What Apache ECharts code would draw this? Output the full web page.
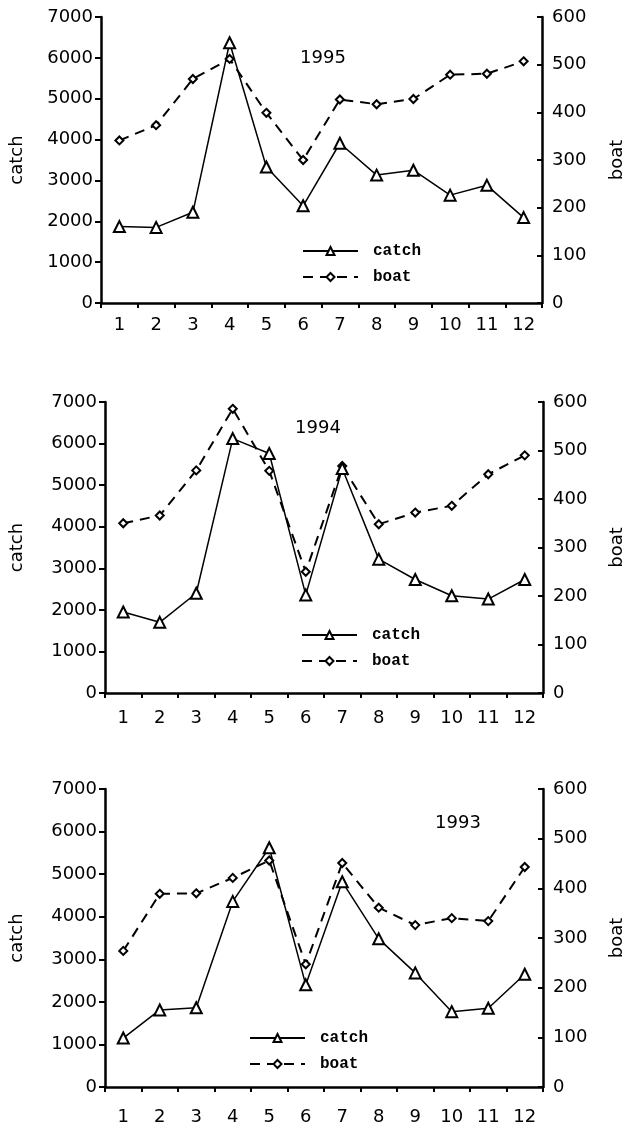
<!DOCTYPE html>
<html>
<head>
<meta charset="utf-8">
<script src="https://cdn.jsdelivr.net/npm/echarts@6/dist/echarts.min.js"></script>
<style>
html,body{margin:0;padding:0;background:#fff;}
#chart{width:634px;height:1130px;}
</style>
</head>
<body>
<div id="chart"></div>
<script>
const months = ['1','2','3','4','5','6','7','8','9','10','11','12'];
const years = ['1995','1994','1993'];
const catch1995 = [1870, 1850, 2220, 6370, 3330, 2380, 3910, 3130, 3250, 2640, 2880, 2090];
const boat1995  = [341, 373, 470, 512, 399, 300, 427, 417, 428, 479, 481, 507];
const catch1994 = [1950, 1700, 2400, 6120, 5760, 2360, 5400, 3220, 2730, 2340, 2260, 2730];
const boat1994  = [350, 366, 459, 586, 458, 250, 468, 348, 372, 386, 451, 490];
const catch1993 = [1150, 1810, 1860, 4360, 5620, 2400, 4820, 3480, 2680, 1770, 1850, 2650];
const boat1993  = [274, 389, 390, 421, 456, 247, 451, 361, 326, 340, 334, 443];
const catchTicks = {min: 0, max: 7000, interval: 1000};
const boatTicks = {min: 0, max: 600, interval: 100};

const catchData = [catch1995, catch1994, catch1993];
const boatData = [boat1995, boat1994, boat1993];

const panels = [
  {left: 97, right: 76, top: 17, height: 286, labelMargin: 13, catchGap: 75, boatGap: 66,
   year: [323, 58], legendLeft: 302, legendTop: 243},
  {left: 94, right: 77, top: 402, height: 291, labelMargin: 16, catchGap: 79, boatGap: 65,
   year: [318, 428], legendLeft: 301, legendTop: 627},
  {left: 93, right: 79, top: 789, height: 298, labelMargin: 21, catchGap: 79, boatGap: 65,
   year: [458, 823], legendLeft: 249, legendTop: 1030}
];

const FONT = 'DejaVu Sans';
const axisLine = {show: true, lineStyle: {color: '#000', width: 2.5}};
const plain = v => String(v);

const grid = [], xAxis = [], yAxis = [], series = [], legend = [], graphic = [];
panels.forEach((p, i) => {
  grid.push({left: p.left, right: p.right, top: p.top, height: p.height, containLabel: false});
  xAxis.push({
    type: 'category', gridIndex: i, data: months, boundaryGap: true,
    axisLine: axisLine,
    axisTick: {show: true, length: 5, lineStyle: {color: '#000', width: 2}},
    axisLabel: {color: '#000', fontFamily: FONT, fontSize: 18, margin: p.labelMargin},
    splitLine: {show: false}
  });
  yAxis.push({
    type: 'value', gridIndex: i, position: 'left',
    min: catchTicks.min, max: catchTicks.max, interval: catchTicks.interval,
    name: 'catch', nameLocation: 'middle', nameRotate: 90, nameGap: p.catchGap,
    nameTextStyle: {color: '#000', fontFamily: FONT, fontSize: 18},
    axisLine: axisLine,
    axisTick: {show: true, length: 6, lineStyle: {color: '#000', width: 2}},
    axisLabel: {color: '#000', fontFamily: FONT, fontSize: 18, margin: 8, formatter: plain},
    splitLine: {show: false}
  });
  yAxis.push({
    type: 'value', gridIndex: i, position: 'right',
    min: boatTicks.min, max: boatTicks.max, interval: boatTicks.interval,
    name: 'boat', nameLocation: 'middle', nameRotate: 90, nameGap: p.boatGap,
    nameTextStyle: {color: '#000', fontFamily: FONT, fontSize: 18},
    axisLine: axisLine,
    axisTick: {show: true, inside: true, length: 5, lineStyle: {color: '#000', width: 2}},
    axisLabel: {color: '#000', fontFamily: FONT, fontSize: 18, margin: 10, formatter: plain},
    splitLine: {show: false}
  });
  series.push({
    name: 'catch', type: 'line', xAxisIndex: i, yAxisIndex: 2 * i,
    data: catchData[i], symbol: 'emptyTriangle', symbolSize: 11,
    lineStyle: {color: '#000', width: 1.5, type: 'solid'},
    itemStyle: {color: '#000', borderColor: '#000', borderWidth: 1.3},
    animation: false, z: 3
  });
  series.push({
    name: 'boat', type: 'line', xAxisIndex: i, yAxisIndex: 2 * i + 1,
    data: boatData[i], symbol: 'emptyDiamond', symbolSize: 8,
    lineStyle: {color: '#000', width: 2, type: [10, 7]},
    itemStyle: {color: '#000', borderColor: '#000', borderWidth: 1.3},
    animation: false, z: 2
  });
  legend.push({
    orient: 'vertical', left: p.legendLeft, top: p.legendTop, padding: 0,
    itemWidth: 55, itemHeight: 10, itemGap: 10,
    data: ['catch', 'boat'], selectedMode: false,
    textStyle: {color: '#000', fontFamily: 'Liberation Mono', fontSize: 16, fontWeight: 'bold',
                padding: [0, 0, 0, 10], lineHeight: 16}
  });
  graphic.push({
    type: 'text', x: p.year[0], y: p.year[1],
    style: {text: years[i], fill: '#000', font: '18px "' + FONT + '"',
            textAlign: 'center', textVerticalAlign: 'middle'}
  });
});

const chart = echarts.init(document.getElementById('chart'), null, {renderer: 'canvas'});
chart.setOption({
  backgroundColor: '#fff',
  animation: false,
  grid: grid, xAxis: xAxis, yAxis: yAxis, series: series, legend: legend, graphic: graphic
});
</script>
</body>
</html>
